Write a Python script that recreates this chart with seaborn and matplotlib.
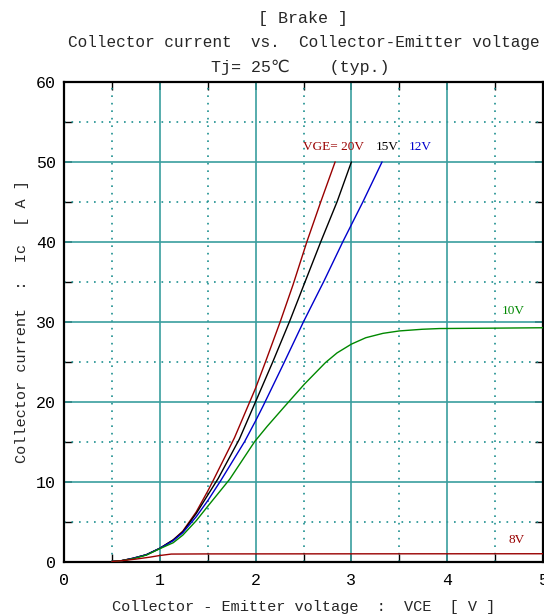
import matplotlib
matplotlib.use("Agg")
import matplotlib.pyplot as plt
import seaborn as sns
import pandas as pd
import numpy as np
from matplotlib.ticker import MultipleLocator

# ---- data ----
vce_20 = [0.5, 0.6, 0.72, 0.86, 1.0, 1.14, 1.24, 1.38, 1.5, 1.56, 1.78, 2.0, 2.11, 2.26, 2.39, 2.535, 2.68, 2.83]
ic_20 = [0.0, 0.1, 0.4, 0.85, 1.65, 2.7, 3.8, 6.2, 8.8, 10.2, 15.5, 21.7, 25.2, 30.1, 34.6, 40.0, 45.0, 50.0]

vce_15 = [0.5, 0.6, 0.72, 0.86, 1.0, 1.14, 1.24, 1.38, 1.5, 1.61, 1.83, 2.0, 2.18, 2.36, 2.51, 2.68, 2.85, 3.0]
ic_15 = [0.0, 0.1, 0.4, 0.85, 1.65, 2.7, 3.7, 6.0, 8.3, 10.4, 15.3, 20.0, 25.0, 30.2, 34.8, 40.0, 45.0, 50.0]

vce_12 = [0.5, 0.6, 0.72, 0.86, 1.0, 1.14, 1.24, 1.38, 1.5, 1.64, 1.885, 2.0, 2.08, 2.29, 2.50, 2.71, 2.91, 3.12, 3.32]
ic_12 = [0.0, 0.1, 0.4, 0.85, 1.65, 2.6, 3.6, 5.6, 7.6, 10.2, 15.0, 17.6, 19.5, 24.7, 30.0, 35.0, 40.0, 45.0, 50.0]

vce_10 = [0.5, 0.6, 0.72, 0.86, 1.0, 1.14, 1.24, 1.38, 1.5, 1.73, 1.99, 2.12, 2.31, 2.51, 2.73, 2.85,
          3.0, 3.15, 3.33, 3.5, 3.74, 3.92, 4.5, 5.0]
ic_10 = [0.0, 0.1, 0.35, 0.8, 1.6, 2.35, 3.3, 5.1, 6.9, 10.3, 15.0, 16.9, 19.5, 22.2, 24.9, 26.1,
         27.2, 28.0, 28.55, 28.85, 29.06, 29.15, 29.2, 29.25]

vce_8 = [0.5, 0.6, 0.75, 0.9, 1.0, 1.12, 1.5, 3.0, 5.0]
ic_8 = [0.0, 0.1, 0.3, 0.55, 0.75, 0.93, 0.95, 0.96, 0.97]

series_names = ["20V", "15V", "12V", "10V", "8V"]
series_colors = ["#990000", "#000000", "#0000CC", "#008800", "#990000"]

x_ticks = [0, 1, 2, 3, 4, 5]
y_ticks = [0, 10, 20, 30, 40, 50, 60]

sns.set_style("ticks")
plt.rcParams["font.family"] = ["Liberation Mono", "DejaVu Sans"]

frames = []
for name, xs, ys in zip(series_names,
                        [vce_20, vce_15, vce_12, vce_10, vce_8],
                        [ic_20, ic_15, ic_12, ic_10, ic_8]):
    frames.append(pd.DataFrame({"VCE": xs, "Ic": ys, "VGE": name}))
df = pd.concat(frames, ignore_index=True)

fig = plt.figure(figsize=(5.44, 6.16), dpi=100)
ax = fig.add_axes([64 / 544, 1 - 561.5 / 616, 479 / 544, 479.5 / 616])

# grid
grid_major = "#3A9E9E"
grid_minor = "#1E9090"
for v in np.arange(0.5, 5, 1.0):
    ax.axvline(v, color=grid_minor, lw=1.2, ls=(0, (1, 3.5)), zorder=1)
for v in np.arange(5, 60, 10):
    ax.axhline(v, color=grid_minor, lw=1.2, ls=(0, (1, 3.5)), zorder=1)
for v in [1, 2, 3, 4]:
    ax.axvline(v, color=grid_major, lw=1.2, zorder=1)
for v in [10, 20, 30, 40, 50]:
    ax.axhline(v, color=grid_major, lw=1.2, zorder=1)

for name, col in zip(series_names, series_colors):
    sub = df[df["VGE"] == name]
    sns.lineplot(data=sub, x="VCE", y="Ic", ax=ax, color=col, lw=1.0,
                 sort=False, estimator=None, zorder=3)

ax.set_xlim(0, 5)
ax.set_ylim(0, 60)
ax.set_xticks(x_ticks)
ax.set_yticks(y_ticks)
ax.xaxis.set_minor_locator(MultipleLocator(0.5))
ax.yaxis.set_minor_locator(MultipleLocator(5))
ax.tick_params(which="both", direction="in", top=True, right=True,
               length=6, width=1.2, labelsize=12, colors="black")
ax.tick_params(which="minor", length=6, width=1.0)
ax.tick_params(axis="x", pad=8)
ax.tick_params(axis="y", pad=6)
for s in ax.spines.values():
    s.set_linewidth(1.6)
    s.set_color("black")
    s.set_visible(True)

ax.set_xlabel("Collector - Emitter voltage  :  VCE  [ V ]", fontsize=11, labelpad=9)
ax.set_ylabel("Collector current  :  Ic  [ A ]", fontsize=11, labelpad=5)

# titles
cx = (64 + 543) / 2 / 544
fig.text(cx, 1 - 18 / 616, "[ Brake ]", ha="center", va="center", fontsize=12)
fig.text(cx, 1 - 43 / 616, "Collector current  vs.  Collector-Emitter voltage",
         ha="center", va="center", fontsize=11.6)
fig.text(cx - 0.005, 1 - 67 / 616, "Tj= 25℃    (typ.)", ha="center", va="center", fontsize=12)

# labels
lab_font = ["Liberation Serif", "DejaVu Sans"]
ax.text(2.49, 51.9, "VGE= 20V", color="#990000", fontsize=9.5, ha="left", va="center", family=lab_font)
ax.text(3.25, 51.9, "15V", color="#000000", fontsize=9.5, ha="left", va="center", family=lab_font)
ax.text(3.6, 51.9, "12V", color="#0000CC", fontsize=9.5, ha="left", va="center", family=lab_font)
ax.text(4.57, 31.3, "10V", color="#008800", fontsize=9.5, ha="left", va="center", family=lab_font)
ax.text(4.64, 2.7, "8V", color="#990000", fontsize=9.5, ha="left", va="center", family=lab_font)

fig.savefig("out.png", dpi=100)
